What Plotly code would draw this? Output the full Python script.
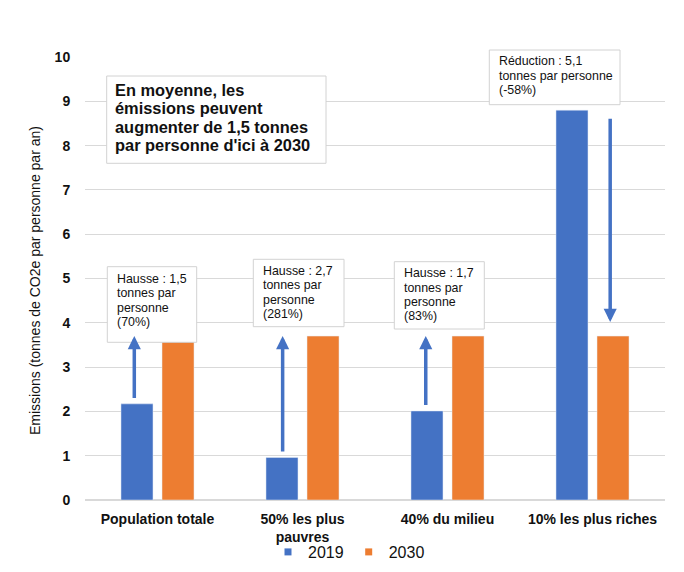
import plotly.graph_objects as go

# ---- data ----
categories = ["Population totale", "50% les plus<br>pauvres", "40% du milieu", "10% les plus riches"]
series_names = ["2019", "2030"]
values_2019 = [2.17, 0.96, 2.01, 8.8]
values_2030 = [3.7, 3.7, 3.7, 3.7]
y_ticks = [0, 1, 2, 3, 4, 5, 6, 7, 8, 9, 10]
y_title = "Emissions (tonnes de CO2e par personne par an)"
summary_lines = ["En moyenne, les", "émissions peuvent", "augmenter de 1,5 tonnes", "par personne d'ici à 2030"]
box_lines = [
    ["Hausse : 1,5", "tonnes par", "personne", "(70%)"],
    ["Hausse : 2,7", "tonnes par", "personne", "(281%)"],
    ["Hausse : 1,7", "tonnes par", "personne", "(83%)"],
    ["Réduction : 5,1", "tonnes par personne", "(-58%)"],
]

BLUE = "#4472C4"
ORANGE = "#ED7D31"
FONT = "Liberation Sans, Arial, sans-serif"
TXT = "#111111"

W, H = 684, 572
L, R, T, B = 85, 19, 57, 72
PW, PH = W - L - R, H - T - B


def fx(px):
    return (px - L) / PW


def fy(py):
    return (H - B - py) / PH


fig = go.Figure()
fig.add_bar(x=categories, y=values_2019, name=series_names[0], marker_color=BLUE, showlegend=False)
fig.add_bar(x=categories, y=values_2030, name=series_names[1], marker_color=ORANGE, showlegend=False)
# legend proxies (small square swatches)
for nm, col in zip(series_names, [BLUE, ORANGE]):
    fig.add_scatter(x=[None], y=[None], mode="markers", name=nm,
                    marker=dict(symbol="square", size=7, color=col))

annotations = []
shapes = []

# arrows from 2019 value to 2030 value
arrow_dx = [-0.16, -0.137, -0.15, 0.122]
for i, (a, b) in enumerate(zip(values_2019, values_2030)):
    if b > a:
        tail, tip = a + 0.1, b
    else:
        tail, tip = a - 0.16, b + 0.32
    xi = i + arrow_dx[i]
    annotations.append(dict(x=xi, y=tip, ax=xi, ay=tail, xref="x", yref="y",
                            axref="x", ayref="y", text="", showarrow=True,
                            arrowhead=2, arrowsize=0.75, arrowwidth=3.5,
                            arrowcolor=BLUE, standoff=0, startstandoff=0))

# text boxes: (x0, x1, y0, y1, text_left, first_line_center, spacing)
box_geom = [
    (107.3, 196.7, 266.7, 342.3, 115.0, 278.7, 14.4),
    (253.3, 344.0, 259.3, 326.7, 260.7, 270.8, 14.4),
    (394.3, 484.3, 261.7, 329.0, 401.7, 273.2, 14.4),
    (489.3, 620.0, 50.0, 104.7, 497.3, 61.5, 14.3),
]
all_boxes = [(106.7, 326.0, 76.0, 163.3, 113.3, 90.0, 18.45, summary_lines, 16.4, "bold")]
for g, lines in zip(box_geom, box_lines):
    all_boxes.append(g + (lines, 12.4, "normal"))

for x0, x1, y0, y1, tl, c0, sp, lines, fs, wt in all_boxes:
    shapes.append(dict(type="rect", xref="paper", yref="paper",
                       x0=fx(x0), x1=fx(x1), y0=fy(y1), y1=fy(y0),
                       fillcolor="white", line=dict(color="#d2d2d2", width=1),
                       layer="above"))
    for k, line in enumerate(lines):
        annotations.append(dict(x=fx(tl), y=fy(c0 + k * sp), xref="paper", yref="paper",
                                xanchor="left", yanchor="middle", showarrow=False,
                                text=line, font=dict(family=FONT, size=fs, color=TXT, weight=wt)))

# y-axis title
annotations.append(dict(x=fx(35), y=fy(281), xref="paper", yref="paper",
                        xanchor="center", yanchor="middle", showarrow=False,
                        textangle=-90, text=y_title,
                        font=dict(family=FONT, size=14, color=TXT)))

fig.update_layout(
    width=W, height=H,
    margin=dict(l=L, r=R, t=T, b=B, pad=0, autoexpand=False),
    paper_bgcolor="white", plot_bgcolor="white",
    barmode="group", bargap=0.434, bargroupgap=0.22,
    font=dict(family=FONT, color=TXT),
    shapes=shapes, annotations=annotations,
    legend=dict(orientation="h", x=fx(268), xanchor="left", y=fy(552), yanchor="middle",
                font=dict(family=FONT, size=16, color=TXT), bgcolor="rgba(0,0,0,0)",
                itemwidth=30, traceorder="normal"),
    showlegend=True,
)
fig.update_xaxes(type="category", showgrid=False, showline=False, zeroline=False,
                 automargin=False,
                 ticks="outside", ticklen=6, tickcolor="rgba(0,0,0,0)",
                 tickfont=dict(family=FONT, size=14, color=TXT, weight="bold"),
                 range=[-0.5, len(categories) - 0.5])
fig.update_yaxes(range=[0, 10], tickvals=y_ticks, showgrid=True, gridcolor="#d9d9d9",
                 gridwidth=1, zeroline=True, zerolinecolor="#d9d9d9", showline=False,
                 automargin=False,
                 ticks="outside", ticklen=11, tickcolor="rgba(0,0,0,0)",
                 tickfont=dict(family=FONT, size=14, color=TXT, weight="bold"))

fig.write_html("out.html", config={"displayModeBar": False},
               post_script="document.body.style.margin='0';document.body.style.overflow='hidden';")
